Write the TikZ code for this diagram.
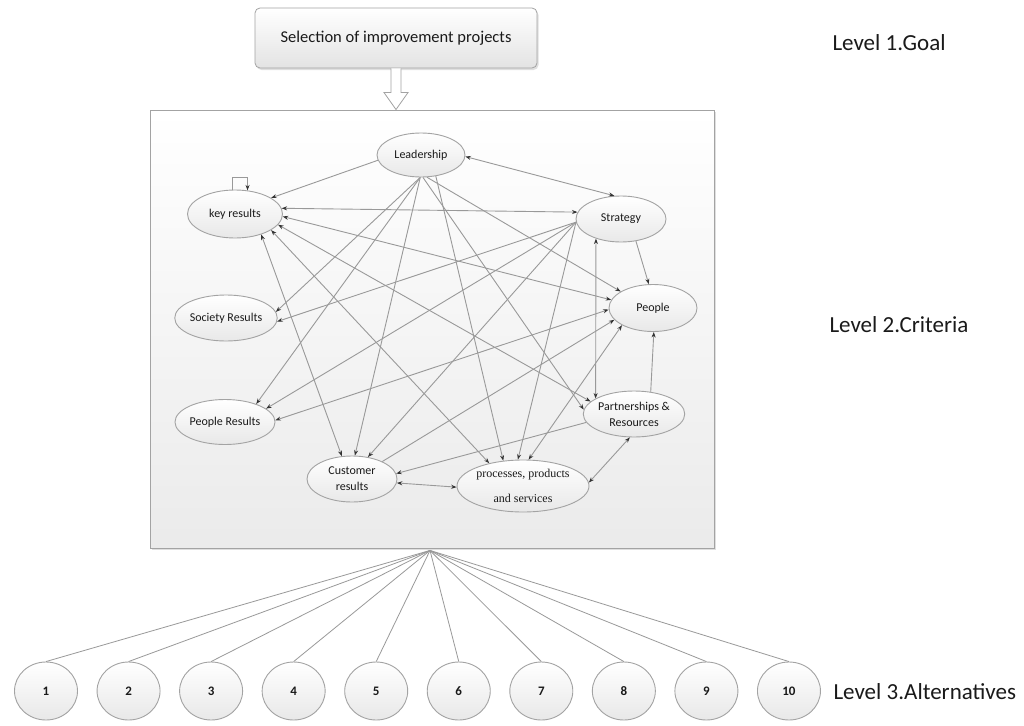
\documentclass[tikz,border=0pt]{standalone}
\usepackage{fontspec}
\setmainfont{Carlito}
\newfontfamily\serifface{Liberation Serif}
\usetikzlibrary{arrows.meta,shadows,shapes.geometric,calc}

\definecolor{linec}{HTML}{999999}
\definecolor{tipc}{HTML}{333333}
\definecolor{rimc}{HTML}{A3A3A3}
\definecolor{txtc}{HTML}{1A1A1A}

\begin{document}
\begin{tikzpicture}[x=1pt,y=-1pt,
  goalbox/.style={draw=rimc, line width=.8pt, rounded corners=5pt,
    top color=white, bottom color=black!11,
    drop shadow={opacity=.25, shadow xshift=1.5pt, shadow yshift=-2pt},
    minimum width=282pt, minimum height=60pt, text=txtc,
    font=\fontsize{16.5}{20}\selectfont},
  critbox/.style={draw=rimc, line width=.9pt, top color=white, bottom color=black!8,
    drop shadow={opacity=.25, shadow xshift=1.5pt, shadow yshift=-2pt},
    minimum width=564pt, minimum height=438pt},
  critnode/.style={ellipse, draw=rimc, line width=.9pt, top color=white,
    bottom color=black!9, inner sep=0pt, align=center, text=txtc,
    font=\fontsize{12}{16}\selectfont},
  altnode/.style={ellipse, draw=rimc, line width=.9pt, top color=white,
    bottom color=black!9, inner sep=0pt, minimum width=63pt, minimum height=58pt,
    text=txtc, font=\bfseries\fontsize{13}{15}\selectfont},
  link/.style={draw=linec, line width=.9pt,
    -{Stealth[length=5.5pt,width=4pt,color=tipc]}},
  dlink/.style={draw=linec, line width=.9pt,
    {Stealth[length=5.5pt,width=4pt,color=tipc]}-{Stealth[length=5.5pt,width=4pt,color=tipc]}},
  branch/.style={draw=linec, line width=.8pt},
  hollow/.style={draw=rimc, line width=.8pt, fill=white},
  levellabel/.style={anchor=west, text=txtc, font=\fontsize{23}{27}\selectfont}]

\useasboundingbox (0,0) rectangle (1024,725);
\fill[white] (0,0) rectangle (1024,725);

% goal and criteria frame
\node[goalbox] (goal) at (396,38) {Selection of improvement projects};
\node[critbox] (box) at (432,329) {};

% hollow arrow from the goal down to the criteria frame
\coordinate (tip) at (goal.south |- box.north);
\path[hollow] ([xshift=-5pt]goal.south) -- ([xshift=-5pt,yshift=17pt]tip)
  -- ([xshift=-12pt,yshift=17pt]tip) -- (tip) -- ([xshift=12pt,yshift=17pt]tip)
  -- ([xshift=5pt,yshift=17pt]tip) -- ([xshift=5pt]goal.south);

% criteria
\node[critnode, minimum width=88pt, minimum height=44pt] (L) at (421,155) {Leadership};
\node[critnode, minimum width=95pt, minimum height=48pt] (K) at (235,214) {key results};
\node[critnode, minimum width=90pt, minimum height=46pt] (S) at (621,219) {Strategy};
\node[critnode, minimum width=88pt, minimum height=46pt] (Soc) at (226,318) {Society Results};
\node[critnode, minimum width=88pt, minimum height=47pt] (Pe) at (653,308) {People};
\node[critnode, minimum width=90pt, minimum height=45pt] (PR) at (225,422) {People Results};
\node[critnode, minimum width=90pt, minimum height=46pt] (PA) at (634,414) {Partnerships \&\\Resources};
\node[critnode, minimum width=90pt, minimum height=46pt] (C) at (352,479) {Customer\\results};
\node[critnode, minimum width=112pt, minimum height=52pt,
  font=\serifface\fontsize{12}{25}\selectfont] (P) at (523,486) {processes, products\\and services};

% relations from Leadership
\draw[link] (L.187) -- (K.24);
\draw[dlink] (L.358) -- (S.106);
\draw[link] (L.268) -- (Soc.7);
\draw[link] (L.268) -- (PR.30);
\draw[link] (L.268) -- (C.83);
\draw[link] (L.305) -- (P.128);
\draw[link] (L.275) -- (PA.175);
\draw[link] (L.285) -- (Pe.153);

% relations of key results
\draw[dlink] (K.7) -- (S.171);
\draw[dlink] (K.357) -- (Pe.169);
\draw[dlink] (K.346) -- (PA.164);
\draw[dlink] (K.336) -- (P.146);
\draw[dlink] (K.322) -- (C.114);
\draw[link] (K.95) -- ++(0pt,12pt) -| (K.62);

% relations from Strategy
\draw[link] (S.184) -- (Soc.356);
\draw[link] (S.184) -- (PR.18);
\draw[link] (S.184) -- (C.54);
\draw[link] (S.184) -- (P.101);
\draw[link] (S.304) -- (Pe.100);
\draw[dlink] (S.218) -- (PA.158);

% remaining relations
\draw[dlink] (Pe.182) -- (PR.2);
\draw[link] (C.30) -- (Pe.197);
\draw[dlink] (P.78) -- (Pe.209);
\draw[link] (PA.53) -- (Pe.272);
\draw[link] (PA.190) -- (C.7);
\draw[dlink] (PA.260) -- (P.3);
\draw[dlink] (C.355) -- (P.181);

% alternatives
\coordinate (hub) at ([xshift=-2pt,yshift=-2pt]box.south);
\foreach \i in {1,...,10}
  \node[altnode] (a\i) at ({46+82.55*(\i-1)},691) {\i};
\foreach \i in {1,...,10}
  \draw[branch] (hub) -- (a\i.north);

% level captions
\node[levellabel] (lv1) at (829,43) {Level 1.Goal};
\node[levellabel] (lv2) at (826,325) {Level 2.Criteria};
\node[levellabel] (lv3) at (830,692) {Level 3.Alternatives};
\end{tikzpicture}
\end{document}
